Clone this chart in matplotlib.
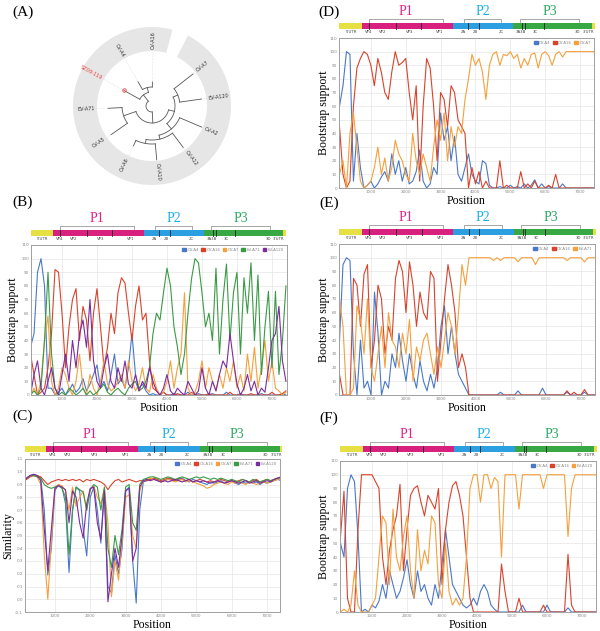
import numpy as np
import matplotlib
matplotlib.use("Agg")
import matplotlib.pyplot as plt
from matplotlib.patches import Wedge, Rectangle, Patch

# ---------------- data ----------------
pos = np.arange(100, 7401, 100)

# (B) bootstrap, SZ09-119 vs 5 references
b_cva4 = [35, 45, 90, 100, 80, 5, 5, 0, 2, 5,
          0, 3, 8, 2, 5, 12, 3, 8, 15, 22,
          5, 10, 3, 15, 30, 8, 12, 5, 20, 45,
          15, 5, 8, 3, 0, 1, 0, 0, 2, 0,
          0, 1, 0, 0, 0, 2, 0, 0, 1, 0,
          0, 0, 1, 0, 0, 0, 2, 0, 0, 0,
          1, 0, 0, 0, 0, 0, 1, 0, 0, 0,
          0, 0, 1, 0]
b_cva16 = [30, 15, 0, 2, 5, 20, 45, 92, 90, 60,
           20, 50, 70, 78, 40, 65, 55, 25, 60, 78,
           50, 20, 35, 60, 45, 75, 86, 82, 60, 40,
           65, 80, 55, 60, 25, 5, 3, 0, 2, 0,
           0, 0, 1, 0, 0, 0, 2, 0, 0, 0,
           0, 1, 0, 0, 0, 0, 0, 2, 0, 0,
           0, 0, 0, 1, 0, 0, 0, 0, 0, 2,
           0, 0, 1, 3]
b_cva7 = [0, 5, 0, 10, 40, 58, 10, 0, 5, 20,
          15, 5, 0, 10, 30, 5, 0, 15, 5, 0,
          10, 25, 8, 3, 5, 10, 15, 5, 25, 10,
          3, 8, 20, 5, 2, 15, 5, 0, 2, 10,
          25, 5, 20, 30, 75, 5, 0, 2, 10, 25,
          5, 20, 10, 3, 15, 5, 20, 10, 25, 5,
          15, 3, 30, 10, 35, 5, 20, 40, 10, 25,
          5, 3, 0, 2]
b_eva71 = [0, 3, 0, 5, 40, 90, 30, 5, 0, 2,
           0, 5, 3, 0, 2, 5, 0, 3, 0, 2,
           5, 8, 2, 0, 3, 5, 2, 0, 5, 8,
           10, 3, 5, 10, 20, 45, 60, 55, 75, 93,
           80, 50, 35, 15, 30, 60, 85, 100, 97, 75,
           50, 60, 40, 93, 30, 70, 96, 40, 75, 90,
           30, 86, 60, 97, 40, 88, 15, 50, 76, 20,
           76, 15, 40, 80]
b_eva120 = [0, 15, 25, 5, 0, 10, 20, 5, 0, 15,
            30, 10, 40, 20, 45, 55, 35, 70, 25, 10,
            5, 20, 30, 10, 5, 20, 10, 25, 8, 5,
            15, 3, 10, 5, 20, 10, 3, 0, 5, 15,
            3, 0, 5, 2, 0, 10, 5, 0, 3, 20,
            5, 0, 10, 3, 15, 25, 20, 45, 25, 8,
            0, 5, 15, 3, 10, 0, 5, 2, 20, 40,
            45, 65, 25, 10]

# (C) similarity
c_cva4 = [0.92, 0.95, 0.97, 0.98, 0.97, 0.95, 0.70, 0.19, 0.40, 0.85,
          0.90, 0.88, 0.75, 0.21, 0.70, 0.88, 0.85, 0.55, 0.34, 0.80,
          0.88, 0.70, 0.44, 0.85, 0.10, 0.05, 0.35, 0.20, 0.40, 0.85,
          0.88, 0.30, -0.03, 0.70, 0.92, 0.93, 0.94, 0.95, 0.93, 0.92,
          0.93, 0.94, 0.95, 0.93, 0.94, 0.95, 0.93, 0.92, 0.94, 0.93,
          0.92, 0.91, 0.90, 0.92, 0.91, 0.92, 0.93, 0.91, 0.92, 0.93,
          0.91, 0.90, 0.92, 0.91, 0.92, 0.91, 0.92, 0.90, 0.92, 0.91,
          0.92, 0.93, 0.94, 0.93]
c_cva16 = [0.93, 0.94, 0.96, 0.97, 0.97, 0.96, 0.93, 0.90, 0.92, 0.93,
           0.94, 0.93, 0.94, 0.93, 0.94, 0.93, 0.94, 0.92, 0.94, 0.93,
           0.94, 0.93, 0.92, 0.90, 0.86, 0.90, 0.93, 0.94, 0.92, 0.93,
           0.94, 0.93, 0.92, 0.93, 0.93, 0.93, 0.94, 0.95, 0.94, 0.93,
           0.94, 0.95, 0.94, 0.93, 0.95, 0.94, 0.93, 0.94, 0.92, 0.93,
           0.94, 0.93, 0.92, 0.93, 0.92, 0.93, 0.94, 0.93, 0.92, 0.93,
           0.92, 0.93, 0.94, 0.93, 0.92, 0.93, 0.94, 0.92, 0.93, 0.94,
           0.93, 0.94, 0.95, 0.96]
c_cva7 = [0.93, 0.95, 0.97, 0.97, 0.96, 0.90, 0.35, 0.00, 0.45, 0.88,
          0.90, 0.89, 0.85, 0.70, 0.88, 0.73, 0.80, 0.85, 0.70, 0.86,
          0.89, 0.80, 0.75, 0.87, 0.60, 0.02, 0.30, 0.15, 0.45, 0.80,
          0.82, 0.50, 0.40, 0.85, 0.93, 0.94, 0.95, 0.94, 0.93, 0.92,
          0.93, 0.94, 0.93, 0.92, 0.93, 0.94, 0.92, 0.93, 0.92, 0.91,
          0.90, 0.89, 0.87, 0.88, 0.90, 0.91, 0.92, 0.91, 0.90, 0.92,
          0.91, 0.92, 0.91, 0.90, 0.92, 0.91, 0.90, 0.91, 0.92, 0.91,
          0.92, 0.93, 0.94, 0.95]
c_eva71 = [0.93, 0.95, 0.97, 0.97, 0.96, 0.95, 0.90, 0.88, 0.87, 0.88,
           0.89, 0.87, 0.80, 0.35, 0.70, 0.88, 0.86, 0.84, 0.70, 0.86,
           0.90, 0.88, 0.70, 0.88, 0.40, 0.25, 0.50, 0.35, 0.55, 0.88,
           0.90, 0.60, 0.54, 0.90, 0.94, 0.95, 0.96, 0.96, 0.95, 0.94,
           0.95, 0.96, 0.95, 0.94, 0.95, 0.96, 0.95, 0.94, 0.95, 0.96,
           0.95, 0.96, 0.95, 0.94, 0.95, 0.94, 0.95, 0.94, 0.93, 0.94,
           0.93, 0.92, 0.94, 0.93, 0.92, 0.94, 0.93, 0.92, 0.93, 0.94,
           0.93, 0.94, 0.95, 0.95]
c_eva120 = [0.93, 0.95, 0.97, 0.98, 0.97, 0.93, 0.55, 0.23, 0.55, 0.87,
            0.89, 0.88, 0.86, 0.60, 0.85, 0.80, 0.60, 0.48, 0.75, 0.87,
            0.88, 0.60, 0.47, 0.85, -0.02, 0.20, 0.40, 0.25, 0.50, 0.85,
            0.87, 0.30, 0.40, 0.88, 0.93, 0.94, 0.93, 0.94, 0.93, 0.92,
            0.93, 0.92, 0.93, 0.94, 0.93, 0.92, 0.93, 0.94, 0.92, 0.93,
            0.92, 0.93, 0.92, 0.91, 0.92, 0.93, 0.92, 0.91, 0.92, 0.93,
            0.92, 0.91, 0.92, 0.93, 0.91, 0.92, 0.93, 0.91, 0.92, 0.93,
            0.92, 0.94, 0.95, 0.96]

# (D) bootstrap vs CV-A4 / CV-A16 / CV-A7
d_cva4 = [60, 75, 100, 98, 5, 40, 15, 0, 2, 5,
          0, 3, 8, 12, 5, 25, 10, 20, 5, 15,
          3, 5, 12, 28, 5, 0, 3, 15, 10, 55,
          35, 45, 20, 38, 10, 5, 15, 25, 10, 5,
          3, 20, 18, 2, 0, 0, 1, 0, 0, 2,
          0, 1, 0, 3, 0, 2, 6, 0, 3, 0,
          1, 0, 0, 0, 3, 0, 0, 0, 0, 0,
          0, 0, 0, 0]
d_cva16 = [45, 10, 0, 5, 60, 88, 95, 100, 98, 90,
           75, 95, 85, 70, 65, 85, 100, 90, 92, 95,
           70, 50, 75, 5, 60, 95, 88, 60, 20, 70,
           65, 45, 75, 70, 50, 45, 40, 0, 15, 3,
           12, 0, 5, 0, 0, 0, 20, 0, 2, 0,
           0, 0, 12, 0, 3, 0, 5, 0, 0, 0,
           2, 0, 10, 0, 0, 0, 0, 0, 0, 0,
           0, 0, 0, 0]
d_cva7 = [10, 20, 0, 40, 55, 30, 5, 0, 2, 5,
          15, 30, 10, 22, 5, 15, 35, 25, 20, 10,
          5, 40, 20, 10, 25, 15, 5, 30, 50, 35,
          55, 20, 45, 30, 45, 40, 65, 80, 98, 90,
          95, 85, 65, 90, 98, 100, 90, 98, 97, 100,
          95, 98, 88, 95, 90, 98, 99, 88, 98, 100,
          97, 90, 98, 100, 96, 100, 100, 100, 100, 100,
          100, 100, 100, 100]

# (E) bootstrap vs CV-A4 / CV-A16 / EV-A71
e_cva4 = [40, 95, 100, 98, 30, 0, 40, 5, 10, 0,
          75, 45, 0, 10, 5, 30, 20, 45, 25, 10,
          30, 15, 5, 25, 10, 3, 15, 5, 20, 50,
          65, 30, 50, 30, 15, 10, 5, 0, 0, 0,
          0, 0, 0, 0, 0, 0, 2, 0, 0, 0,
          0, 3, 0, 0, 0, 0, 0, 0, 5, 0,
          0, 0, 0, 0, 0, 2, 0, 0, 0, 0,
          2, 0, 0, 0]
e_cva16 = [15, 0, 0, 0, 85, 80, 50, 88, 95, 20,
           40, 80, 70, 30, 50, 40, 85, 98, 90, 60,
           97, 80, 50, 75, 60, 55, 90, 85, 10, 40,
           70, 95, 80, 60, 20, 30, 20, 0, 0, 0,
           0, 0, 0, 0, 0, 0, 0, 0, 0, 0,
           0, 0, 0, 0, 0, 0, 0, 0, 0, 0,
           0, 0, 0, 0, 0, 3, 0, 2, 0, 0,
           4, 0, 0, 0]
e_eva71 = [70, 50, 0, 0, 5, 65, 55, 30, 70, 20,
           10, 30, 50, 20, 60, 40, 35, 20, 45, 30,
           55, 10, 35, 25, 40, 45, 30, 15, 35, 20,
           40, 60, 50, 30, 60, 95, 80, 100, 100, 100,
           100, 100, 100, 100, 98, 100, 98, 100, 100, 100,
           100, 97, 100, 100, 100, 100, 95, 100, 100, 100,
           100, 100, 100, 100, 100, 98, 100, 100, 100, 100,
           97, 100, 100, 100]

# (F) bootstrap vs CV-A4 / CV-A16 / EV-A120
f_cva4 = [50, 40, 90, 100, 95, 55, 0, 2, 0, 5,
          3, 8, 20, 10, 30, 20, 10, 15, 25, 38,
          20, 10, 30, 15, 20, 10, 5, 20, 10, 35,
          60, 40, 20, 15, 10, 5, 3, 5, 10, 5,
          15, 20, 15, 5, 2, 0, 0, 0, 0, 0,
          0, 0, 5, 0, 0, 0, 0, 0, 0, 5,
          0, 0, 0, 0, 0, 3, 0, 0, 0, 0,
          0, 0, 0, 0]
f_cva16 = [55, 88, 10, 0, 0, 60, 100, 100, 100, 100,
           95, 90, 40, 20, 45, 60, 70, 93, 30, 60,
           85, 90, 92, 80, 70, 85, 80, 75, 90, 20,
           60, 80, 92, 95, 85, 70, 40, 10, 0, 0,
           0, 0, 0, 0, 0, 0, 35, 15, 0, 0,
           0, 10, 0, 0, 0, 0, 0, 0, 5, 0,
           0, 0, 0, 0, 0, 42, 5, 0, 0, 0,
           0, 0, 0, 0]
f_eva120 = [0, 2, 0, 5, 30, 5, 0, 0, 0, 5,
            10, 40, 70, 65, 20, 75, 40, 30, 55, 70,
            30, 10, 60, 30, 45, 35, 70, 65, 20, 10,
            50, 15, 5, 10, 5, 10, 40, 90, 100, 100,
            80, 100, 100, 90, 98, 95, 40, 100, 100, 100,
            100, 75, 100, 100, 100, 100, 100, 100, 90, 100,
            100, 100, 100, 100, 100, 55, 90, 100, 100, 100,
            100, 100, 100, 100]

# genome map (EV-A71-like coordinates)
seg_start = [1, 744, 951, 1713, 2439, 3330, 3780, 4077, 5064, 5323, 5389, 5938, 7321]
seg_end = [743, 950, 1712, 2438, 3329, 3779, 4076, 5063, 5322, 5388, 5937, 7320, 7405]
seg_region = ["UTR", "P1", "P1", "P1", "P1", "P2", "P2", "P2", "P3", "P3", "P3", "P3", "UTR"]
seg_breaks = [951, 1713, 2439, 3780, 4077, 5323, 5389, 5938]
seg_labels = ["5'UTR", "VP4", "VP2", "VP3", "VP1", "2A", "2B", "2C", "3A3B", "3C", "3D", "3'UTR"]
seg_label_pos = [450, 940, 1340, 2110, 2970, 3630, 3970, 4710, 5290, 5710, 6910, 7200]
poly_names = ["P1", "P2", "P3"]
poly_span = [(930, 3050), (3650, 4720), (5260, 6950)]

# tree (panel A)
leaf_names = ["CV-A16", "CV-A4", "SZ09-119", "EV-A71", "CV-A5", "CV-A6",
              "CV-A10", "CV-A12", "CV-A2", "EV-A120", "CV-A7"]
leaf_angle = [89, 120, 151, 183, 215, 245, 275, 307, 337, 368, 398]
leaf_r = [24, 28, 32, 44, 50, 44, 54, 52, 54, 50, 52]
tree = (6, [(14, [(19, [0, 1]), 2]),
            (17, [(30, [3, 4]),
                  (23, [(30, [(34, [(38, [5, 6]), 7]), 8]),
                        (28, [9, 10])])])])

# ---------------- style ----------------
W, H = 600, 631
SERIF = "Liberation Serif"
region_color = {"UTR": "#e6e043", "P1": "#d8207f", "P2": "#2b9fe0", "P3": "#37a843"}
poly_color = ["#e0218a", "#1aaee6", "#2aa860"]
BLUE, RED, ORANGE, GREEN, PURPLE = "#4a78c8", "#d8432b", "#f5a03c", "#3a9a45", "#7d2c9e"

fig = plt.figure(figsize=(W / 100, H / 100), dpi=100)


def add_ax(x0, y0, x1, y1):
    return fig.add_axes([x0 / W, 1 - y1 / H, (x1 - x0) / W, (y1 - y0) / H])


def genome_bar(x0, x1, ybot, xlim):
    ax = add_ax(x0, ybot - 30, x1, ybot + 6)
    ax.set_xlim(xlim)
    ax.set_ylim(-1, 5)
    ax.axis("off")
    for s, e, r in zip(seg_start, seg_end, seg_region):
        ax.add_patch(Rectangle((s, 0), e - s + 1, 1, color=region_color[r], lw=0))
    for b in seg_breaks:
        ax.plot([b, b], [0, 1], color="#222222", lw=0.6)
    for name, xp in zip(seg_labels, seg_label_pos):
        ax.text(xp, -0.5, name, fontsize=2.8, ha="center", va="center", color="#444444")
    for name, (s, e), c in zip(poly_names, poly_span, poly_color):
        ax.plot([s, s, e, e], [1.15, 1.7, 1.7, 1.15], color="#999999", lw=0.6)
        ax.text((s + e) / 2, 2.85, name, fontsize=10, color=c, ha="center", va="center",
                family=SERIF)


def plot_panel(ax, series, colors, labels, xlim, ylim, yticks, yfmt, ylabel, ylab_x, xlab_y):
    for ys, c in zip(series, colors):
        ax.plot(pos, ys, color=c, lw=0.8)
    ax.set_xlim(xlim)
    ax.set_ylim(ylim)
    ax.set_xticks([1000, 2000, 3000, 4000, 5000, 6000, 7000])
    ax.set_yticks(yticks)
    ax.set_yticklabels([yfmt.format(v) for v in yticks])
    ax.tick_params(labelsize=3, colors="#888888", length=0, pad=1.5)
    ax.grid(color="#e6e6e6", lw=0.5)
    ax.set_axisbelow(True)
    for sp in ax.spines.values():
        sp.set_color("#a0a0a0")
        sp.set_linewidth(0.7)
    ax.set_ylabel(ylabel, family=SERIF, fontsize=8.5)
    ax.yaxis.set_label_coords(ylab_x, 0.5)
    ax.set_xlabel("Position", family=SERIF, fontsize=8.5)
    ax.xaxis.set_label_coords(0.5, xlab_y)
    handles = [Patch(color=c) for c in colors]
    ax.legend(handles, labels, loc="upper right", ncol=len(labels), fontsize=2.8,
              frameon=False, handlelength=1.0, handleheight=0.7, handletextpad=0.3,
              columnspacing=0.6, borderaxespad=0.4, labelcolor="#888888")


boot_ticks = list(range(0, 111, 10))
sim_ticks = [round(v, 1) for v in np.arange(-0.1, 1.11, 0.1)]

# ---------------- panel A: tree ----------------
axA = add_ax(62, 16, 242, 196)
axA.set_xlim(-90, 90)
axA.set_ylim(-90, 90)
axA.axis("off")
axA.add_patch(Wedge((0, 0), 79, 75, 423, width=24, color="#e6e6e6", lw=0))


def polar(a, r):
    t = np.radians(a)
    return r * np.cos(t), r * np.sin(t)


def draw_node(node):
    if isinstance(node, int):
        return leaf_angle[node], leaf_r[node]
    r, kids = node
    angs = []
    for k in kids:
        a, rk = draw_node(k)
        x0, y0 = polar(a, r)
        x1, y1 = polar(a, rk)
        axA.plot([x0, x1], [y0, y1], color="#555555", lw=0.6)
        angs.append(a)
    t = np.linspace(min(angs), max(angs), 40)
    xs, ys = polar(t, r)
    axA.plot(xs, ys, color="#555555", lw=0.6)
    return float(np.mean(angs)), r


draw_node(tree)
for name, a, r in zip(leaf_names, leaf_angle, leaf_r):
    col = "#e8473f" if name == "SZ09-119" else "#333333"
    x0, y0 = polar(a, r)
    x1, y1 = polar(a, 55)
    axA.plot([x0, x1], [y0, y1], color="#cccccc", lw=0.4, ls=":")
    if name == "SZ09-119":
        axA.plot(x0, y0, "o", mfc="none", mec=col, ms=2.5, mew=0.6)
    am = a % 360
    xt, yt = polar(a, 57)
    if 90 < am < 270:
        axA.text(xt, yt, name, rotation=am - 180, ha="right", va="center",
                 rotation_mode="anchor", fontsize=3.6, color=col)
    else:
        axA.text(xt, yt, name, rotation=am, ha="left", va="center",
                 rotation_mode="anchor", fontsize=3.6, color=col)

# ---------------- panel B ----------------
genome_bar(31, 287, 236, (114, 7430))
axB = add_ax(31, 245, 287, 395)
plot_panel(axB, [b_cva4, b_cva16, b_cva7, b_eva71, b_eva120],
           [BLUE, RED, ORANGE, GREEN, PURPLE],
           ["CV-A4", "CV-A16", "CV-A7", "EV-A71", "EV-A120"],
           (114, 7430), (0, 110), boot_ticks, "{:d}", "Bootstrap support", -0.045, -0.047)

# ---------------- panel C ----------------
genome_bar(25, 282, 452, (155, 7366))
axC = add_ax(25, 459, 280, 612)
plot_panel(axC, [c_cva4, c_cva16, c_cva7, c_eva71, c_eva120],
           [BLUE, RED, ORANGE, GREEN, PURPLE],
           ["CV-A4", "CV-A16", "CV-A7", "EV-A71", "EV-A120"],
           (155, 7366), (-0.1, 1.1), sim_ticks, "{:.1f}", "Similarity", -0.042, -0.046)

# ---------------- panel D ----------------
genome_bar(339, 595, 29, (86, 7400))
axD = add_ax(339, 38, 594, 188)
plot_panel(axD, [d_cva4, d_cva16, d_cva7], [BLUE, RED, ORANGE],
           ["CV-A4", "CV-A16", "CV-A7"],
           (86, 7400), (0, 110), boot_ticks, "{:d}", "Bootstrap support", -0.036, -0.047)

# ---------------- panel E ----------------
genome_bar(339, 596, 235, (86, 7400))
axE = add_ax(339, 244, 595, 395)
plot_panel(axE, [e_cva4, e_cva16, e_eva71], [BLUE, RED, ORANGE],
           ["CV-A4", "CV-A16", "EV-A71"],
           (86, 7400), (0, 110), boot_ticks, "{:d}", "Bootstrap support", -0.036, -0.046)

# ---------------- panel F ----------------
genome_bar(340, 597, 452, (86, 7400))
axF = add_ax(340, 461, 596, 612)
plot_panel(axF, [f_cva4, f_cva16, f_eva120], [BLUE, RED, ORANGE],
           ["CV-A4", "CV-A16", "EV-A120"],
           (86, 7400), (0, 110), boot_ticks, "{:d}", "Bootstrap support", -0.04, -0.046)

# panel letters
for lab, x, y in [("(A)", 23, 12), ("(B)", 23, 202), ("(C)", 23, 416),
                  ("(D)", 329, 12), ("(E)", 329, 203), ("(F)", 329, 418)]:
    fig.text(x / W, 1 - y / H, lab, fontsize=11, family=SERIF, ha="center", va="center")

fig.savefig("out.png", dpi=100)
